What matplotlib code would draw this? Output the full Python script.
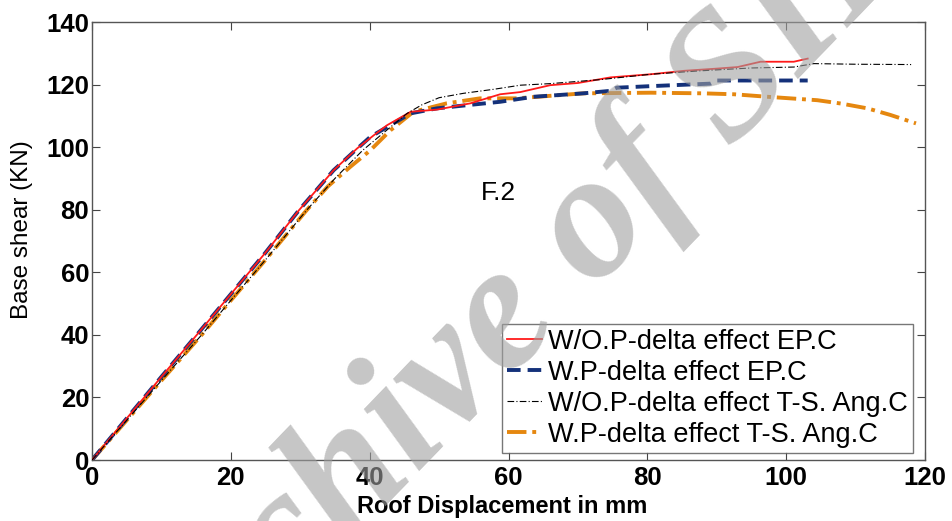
import matplotlib
matplotlib.use("Agg")
import matplotlib.pyplot as plt

# W/O P-delta effect EP.C (red)
red_x = [0, 5, 10, 15.1, 20, 25, 29.8, 34.8, 38.2, 40.6, 42.5, 45.9, 49.7, 54.5, 58.8, 61.7, 66, 70, 74.7, 80.5, 85.3, 90, 93, 96.3, 101.1, 103.1]
red_y = [0, 13.3, 26.6, 40, 53, 66.3, 79.8, 92.6, 99.6, 103.8, 107, 111.3, 112, 114, 116.9, 117.6, 119.8, 120.5, 122.3, 123.3, 124.4, 125.1, 125.6, 127.3, 127.3, 128.3]
# W P-delta effect EP.C (blue)
blue_x = [0, 5, 10, 15.1, 20, 25, 29.8, 34.8, 37.7, 40.1, 45.9, 49.7, 54, 58.8, 63.6, 70.8, 74.7, 75.6, 80.5, 89.1, 90, 103.1]
blue_y = [0, 13.3, 26.6, 40, 53, 66.3, 79.8, 92.6, 98.5, 103.3, 110.8, 112.4, 113.4, 114.5, 116.1, 117.2, 118, 119, 119.5, 120.3, 121.3, 121.3]
# W/O P-delta effect T-S. Ang.C (black)
blk_x = [0, 5, 10, 15.8, 20, 25, 30.9, 35, 39, 42.5, 45.4, 47.5, 50, 53.5, 57.9, 61.7, 66, 73.3, 80.5, 87.7, 94.9, 101.1, 104, 110, 118]
blk_y = [0, 12.7, 25.4, 40, 51, 64, 79.8, 90, 99, 105.5, 110.8, 113.5, 115.8, 117.2, 118.5, 119.8, 120.3, 121.6, 123.3, 124.4, 125.3, 125.6, 126.7, 126.5, 126.4]
# W P-delta effect T-S. Ang.C (orange)
org_x = [0, 5, 10, 15.8, 20, 25, 30.9, 34, 37.2, 40.1, 43, 46.3, 51.1, 55.9, 61.2, 70.8, 80.5, 88, 92.5, 97.3, 104.5, 108, 111.7, 115, 118.7]
org_y = [0, 12.7, 25.4, 40, 51, 64, 79.8, 87.5, 93.7, 99, 105.4, 111.3, 114, 115.6, 115.6, 117.2, 117.4, 117.2, 116.9, 116.1, 115, 113.9, 112.4, 110.3, 107.6]

labels = ["W/O.P-delta effect EP.C", "W.P-delta effect EP.C",
          "W/O.P-delta effect T-S. Ang.C", "W.P-delta effect T-S. Ang.C"]
xticks = [0, 20, 40, 60, 80, 100, 120]
yticks = [0, 20, 40, 60, 80, 100, 120, 140]

plt.rcParams['font.family'] = ['Liberation Sans', 'DejaVu Sans']

fig = plt.figure(figsize=(9.52, 5.21), dpi=100)
ax = fig.add_axes([92 / 952, 1 - 460 / 521, (925 - 92) / 952, (460 - 22) / 521])

ax.plot(red_x, red_y, color='#ff1a1a', lw=1.3, label=labels[0], zorder=3)
ax.plot(blue_x, blue_y, color='#14317a', lw=2.8, ls=(0, (3.5, 1.8)), label=labels[1], zorder=2)
ax.plot(blk_x, blk_y, color='black', lw=0.8, ls=(0, (6, 2, 1, 2)), label=labels[2], zorder=4)
ax.plot(org_x, org_y, color='#e5870f', lw=2.8, ls=(0, (5, 1.5, 1, 1.5)), label=labels[3], zorder=1)

ax.set_xlim(0, 120)
ax.set_ylim(0, 140)
ax.set_xticks(xticks)
ax.set_yticks(yticks)
ax.tick_params(direction='in', length=6, top=True, right=True, labelsize=18.5, pad=2, color='#444444')
ax.tick_params(axis='x', pad=4)
for lab in ax.get_xticklabels() + ax.get_yticklabels():
    lab.set_fontweight('bold')
for s in ax.spines.values():
    s.set_color('#555555')
    s.set_linewidth(1.0)

ax.set_xlabel('Roof Displacement in mm', fontsize=17, fontweight='bold')
ax.xaxis.set_label_coords((502 - 92) / 833, -(495 - 460) / 438, transform=ax.transAxes)
ax.set_ylabel('Base shear (KN)', fontsize=17.5)
ax.yaxis.set_label_coords(-(92 - 33) / 833, (460 - 230) / 438, transform=ax.transAxes)

ax.text(58.5, 85.3, 'F.2', fontsize=19, ha='center', va='center')

leg = ax.legend(loc='lower right', fontsize=19.5, frameon=True, fancybox=False,
                edgecolor='#555555', handlelength=1.3, handletextpad=0.2,
                borderpad=0.2, labelspacing=0.18, borderaxespad=0,
                bbox_to_anchor=(913 / 952, 1 - 453 / 521), bbox_transform=fig.transFigure)
leg.get_frame().set_linewidth(1.0)

# watermark
fig.text(520 / 952, 1 - 312 / 521, 'Archive of SID', fontsize=130, family='Liberation Serif',
         style='italic', fontweight='bold', color='#a0a0a0', alpha=0.6,
         rotation=46, rotation_mode='anchor', ha='center', va='center', zorder=10)

fig.savefig('out.png', dpi=100)
